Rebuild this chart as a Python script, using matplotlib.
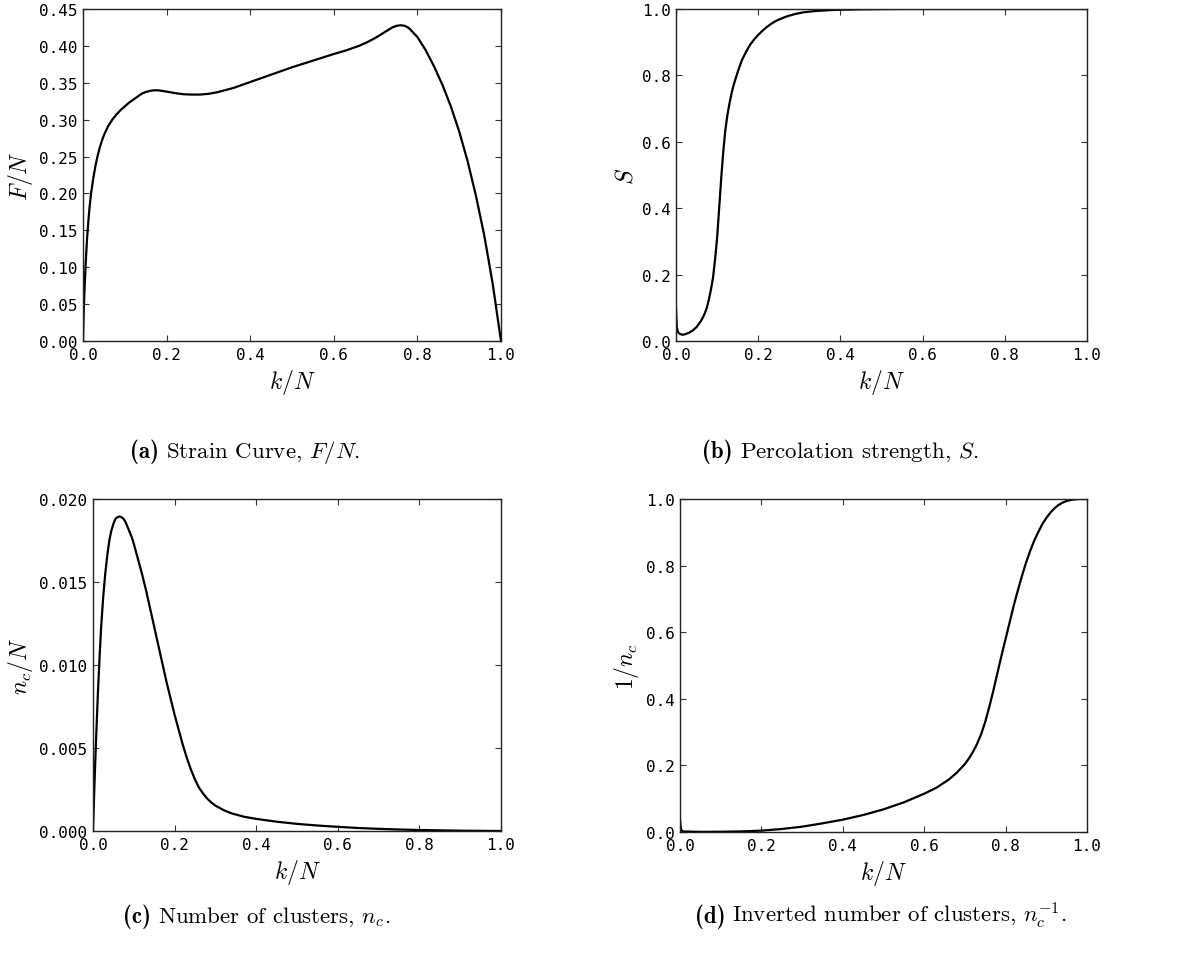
import matplotlib
matplotlib.use("Agg")
import matplotlib.pyplot as plt

plt.rcParams["mathtext.fontset"] = "cm"
plt.rcParams["font.family"] = "DejaVu Sans Mono"

# (a) strain curve F/N
kN_a = [0, 0.002, 0.004, 0.006, 0.008, 0.010, 0.0125, 0.015, 0.0175, 0.02, 0.025,
        0.03, 0.035, 0.04, 0.045, 0.05, 0.06, 0.07, 0.08, 0.09, 0.10, 0.11, 0.12, 0.13,
        0.14, 0.15, 0.16, 0.17, 0.18, 0.19, 0.20, 0.22, 0.24, 0.26, 0.28, 0.30, 0.32,
        0.34, 0.36, 0.38, 0.40, 0.45, 0.50, 0.55, 0.60, 0.63, 0.66, 0.68, 0.70, 0.72,
        0.74, 0.75, 0.76, 0.77, 0.78, 0.80, 0.82, 0.84, 0.86, 0.88, 0.90, 0.92, 0.94,
        0.96, 0.98, 1.0]
F_N = [0, 0.045, 0.075, 0.10, 0.122, 0.141, 0.160, 0.177, 0.191, 0.203, 0.222,
       0.238, 0.251, 0.262, 0.271, 0.279, 0.291, 0.300, 0.307, 0.313, 0.318, 0.323, 0.327, 0.331,
       0.335, 0.3375, 0.339, 0.3398, 0.3398, 0.339, 0.338, 0.336, 0.3345, 0.334, 0.334, 0.335, 0.337,
       0.340, 0.343, 0.347, 0.351, 0.361, 0.371, 0.380, 0.389, 0.394, 0.4, 0.405, 0.411, 0.418,
       0.425, 0.4272, 0.428, 0.4272, 0.424, 0.412, 0.394, 0.372, 0.347, 0.318, 0.284, 0.244, 0.197,
       0.143, 0.078, 0.0]

# (b) percolation strength S
kN_b = [0, 0.002, 0.005, 0.01, 0.015, 0.02, 0.03, 0.04, 0.05, 0.06, 0.065, 0.07, 0.075,
        0.08, 0.085, 0.09, 0.095, 0.10, 0.105, 0.11, 0.115, 0.12, 0.125, 0.13, 0.135,
        0.14, 0.145, 0.15, 0.16, 0.17, 0.18, 0.19, 0.20, 0.21, 0.22, 0.23, 0.24, 0.25,
        0.27, 0.29, 0.31, 0.34, 0.38, 0.45, 0.55, 0.7, 0.85, 1.0]
S = [0.10, 0.04, 0.026, 0.021, 0.019, 0.0195, 0.024, 0.031, 0.042, 0.059, 0.07, 0.083, 0.10,
     0.125, 0.155, 0.19, 0.245, 0.31, 0.40, 0.49, 0.57, 0.635, 0.68, 0.715, 0.745,
     0.77, 0.79, 0.81, 0.845, 0.87, 0.892, 0.908, 0.922, 0.934, 0.945, 0.954, 0.962, 0.968,
     0.978, 0.985, 0.99, 0.994, 0.997, 0.999, 1.0, 1.0, 1.0, 1.0]

# (c) number of clusters n_c / N
kN_c = [0, 0.002, 0.004, 0.006, 0.008, 0.012, 0.016, 0.02, 0.025, 0.03, 0.035, 0.04,
        0.045, 0.05, 0.055, 0.06, 0.065, 0.07, 0.075, 0.08, 0.085, 0.09, 0.095, 0.10,
        0.11, 0.12, 0.13, 0.14, 0.15, 0.16, 0.17, 0.18, 0.19, 0.20, 0.21, 0.22, 0.23,
        0.24, 0.25, 0.26, 0.27, 0.28, 0.29, 0.30, 0.32, 0.34, 0.37, 0.40, 0.45, 0.50, 0.55,
        0.60, 0.65, 0.70, 0.75, 0.80, 0.85, 0.90, 0.95, 1.0]
nc_N = [0, 0.0016, 0.0031, 0.0045, 0.0058, 0.0083, 0.0104, 0.0123, 0.0141, 0.0155, 0.0166, 0.0175,
        0.0181, 0.0185, 0.0188, 0.0189, 0.01895, 0.0189, 0.0188, 0.0186, 0.0183, 0.0180, 0.0177, 0.0173,
        0.0164, 0.0155, 0.0145, 0.0134, 0.0123, 0.0112, 0.0101, 0.0090, 0.0080, 0.0070, 0.0061, 0.0052, 0.0044,
        0.0037, 0.0031, 0.0026, 0.00225, 0.00195, 0.00172, 0.00153, 0.00126, 0.00106, 0.00086, 0.00073,
        0.00056, 0.00043, 0.00033, 0.00025, 0.00018, 0.00013, 0.00009, 0.00006, 0.00004, 0.00002, 0.00001, 0.0]

# (d) inverted number of clusters 1 / n_c
kN_d = [0, 0.002, 0.005, 0.01, 0.05, 0.10, 0.15, 0.20, 0.25, 0.30, 0.35, 0.40, 0.45,
        0.50, 0.55, 0.60, 0.63, 0.66, 0.68, 0.70, 0.71, 0.72, 0.73, 0.74, 0.75, 0.76,
        0.77, 0.78, 0.79, 0.80, 0.81, 0.82, 0.83, 0.84, 0.85, 0.86, 0.87, 0.88, 0.89,
        0.90, 0.91, 0.92, 0.93, 0.94, 0.95, 0.96, 0.97, 0.98, 1.0]
inv_nc = [0.04, 0.01, 0.003, 0.0015, 0.0005, 0.0008, 0.0018, 0.004, 0.009, 0.016, 0.026, 0.037, 0.051,
          0.068, 0.089, 0.115, 0.133, 0.157, 0.178, 0.204, 0.221, 0.241, 0.265, 0.294, 0.331, 0.376,
          0.425, 0.478, 0.53, 0.58, 0.63, 0.68, 0.725, 0.768, 0.808, 0.843, 0.874, 0.90, 0.924,
          0.943, 0.959, 0.972, 0.982, 0.989, 0.994, 0.997, 0.999, 1.0, 1.0]

yticks_a = [0.00, 0.05, 0.10, 0.15, 0.20, 0.25, 0.30, 0.35, 0.40, 0.45]
yticks_b = [0.0, 0.2, 0.4, 0.6, 0.8, 1.0]
yticks_c = [0.000, 0.005, 0.010, 0.015, 0.020]
xticks = [0.0, 0.2, 0.4, 0.6, 0.8, 1.0]

caption_tags = ["(a)", "(b)", "(c)", "(d)"]
caption_texts = [
    r"Strain Curve, $F/N$.",
    r"Percolation strength, $S$.",
    r"Number of clusters, $n_c$.",
    r"Inverted number of clusters, $n_c^{-1}$.",
]

W, H = 1177, 962
fig = plt.figure(figsize=(W / 100, H / 100), dpi=100)


def px_axes(left, top, right, bottom):
    return fig.add_axes([left / W, 1 - bottom / H, (right - left) / W, (bottom - top) / H])


panels = [
    (px_axes(83, 10, 501, 342), kN_a, F_N, yticks_a, "%.2f", r"$F/N$"),
    (px_axes(676, 10, 1087, 342), kN_b, S, yticks_b, "%.1f", r"$S$"),
    (px_axes(93, 500, 501, 832), kN_c, nc_N, yticks_c, "%.3f", r"$n_c/N$"),
    (px_axes(680, 500, 1087, 833), kN_d, inv_nc, yticks_b, "%.1f", r"$1/n_c$"),
]

for ax, x, y, yt, fmt, ylab in panels:
    ax.plot(x, y, color="black", lw=1.6, solid_joinstyle="round")
    ax.set_xlim(0, 1)
    ax.set_ylim(yt[0], yt[-1])
    ax.set_xticks(xticks)
    ax.set_xticklabels(["%.1f" % t for t in xticks])
    ax.set_yticks(yt)
    ax.set_yticklabels([fmt % t for t in yt])
    ax.tick_params(direction="in", length=4, width=0.8, top=True, right=True,
                   labelsize=11.5, pad=4, color="#333333")
    for sp in ax.spines.values():
        sp.set_linewidth(1.0)
        sp.set_color("#222222")
    ax.set_xlabel(r"$k/N$", fontsize=17, labelpad=4)
    ax.set_ylabel(ylab, fontsize=17, labelpad=3)

# sub-captions: bold tag followed by roman text, centred as one line
cap_size = 16.5
cap_pos = [(245, 458), (840, 458), (257, 923), (881, 923)]
fig.canvas.draw()
renderer = fig.canvas.get_renderer()
gap = 0.30 * cap_size * 100 / 72
for (cx, by), tag, txt in zip(cap_pos, caption_tags, caption_texts):
    t1 = fig.text(0, 1 - by / H, tag, family="cmb10", fontsize=cap_size, va="baseline")
    t2 = fig.text(0, 1 - by / H, txt, family="cmr10", fontsize=cap_size, va="baseline")
    w1 = t1.get_window_extent(renderer).width
    w2 = t2.get_window_extent(renderer).width
    start = cx - (w1 + gap + w2) / 2
    t1.set_x(start / W)
    t2.set_x((start + w1 + gap) / W)

fig.savefig("out.png", dpi=100)
